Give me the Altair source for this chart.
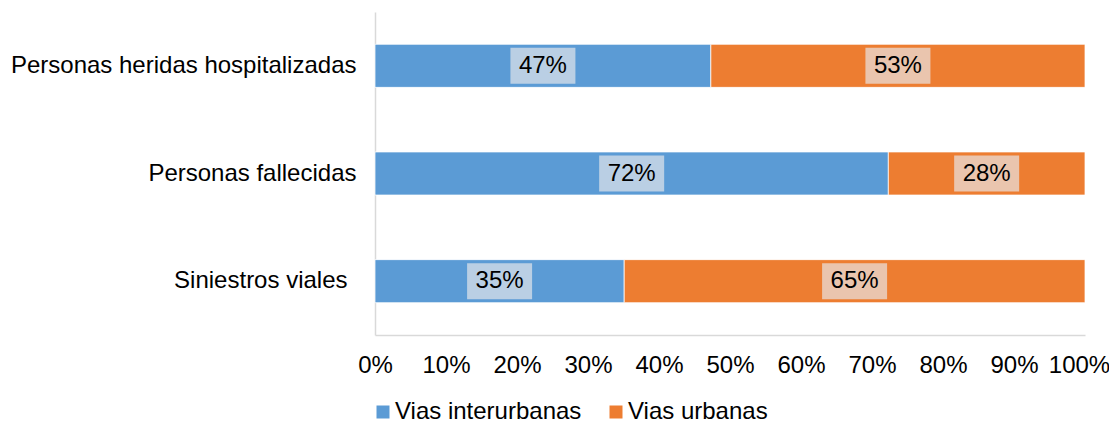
import altair as alt
import pandas as pd

categories = ["Personas heridas hospitalizadas", "Personas fallecidas", "Siniestros viales"]
series = ["Vias interurbanas", "Vias urbanas"]
interurbanas = [47.3, 72.3, 35.1]
urbanas = [52.7, 27.7, 64.9]
label_inter = ["47%", "72%", "35%"]
label_urb = ["53%", "28%", "65%"]
colors = ["#5B9BD5", "#ED7D31"]
x_ticks = [0, 0.1, 0.2, 0.3, 0.4, 0.5, 0.6, 0.7, 0.8, 0.9, 1.0]

rows = []
for i, c in enumerate(categories):
    rows.append({"cat": c, "serie": series[0], "v": interurbanas[i], "lab": label_inter[i], "ord": 0})
    rows.append({"cat": c, "serie": series[1], "v": urbanas[i], "lab": label_urb[i], "ord": 1})
df = pd.DataFrame(rows)

FONT = "Liberation Sans"
FS = 24

base = alt.Chart(df).transform_stack(
    stack="v", groupby=["cat"], as_=["x0", "x1"], offset="normalize",
    sort=[alt.SortField("ord", order="ascending")]
).transform_calculate(mid="(datum.x0 + datum.x1) / 2")

yenc = alt.Y("cat:N", sort=categories, title=None,
             scale=alt.Scale(paddingInner=0.6, paddingOuter=0.3),
             axis=alt.Axis(labelFontSize=FS, labelFont=FONT, labelColor="#000000",
                           ticks=False,
                           labelPadding=alt.ConditionalAxisNumber(
                               condition={"test": "datum.value == 'Siniestros viales'", "value": 28},
                               value=19),
                           domainColor="#D9D9D9", domainWidth=1.5, labelLimit=500))

bars = base.mark_bar(stroke="white", strokeWidth=0.75).encode(
    x=alt.X("x0:Q", title=None, scale=alt.Scale(domain=[0, 1], nice=False),
            axis=alt.Axis(values=x_ticks, format=".0%", labelFontSize=FS, labelFont=FONT,
                          labelColor="#000000", ticks=False, grid=False, labelPadding=18,
                          labelOffset=alt.ConditionalAxisNumber(
                              condition={"test": "datum.value == 1", "value": -6}, value=0),
                          domainColor="#D9D9D9", domainWidth=1.5, labelFlush=False)),
    x2="x1:Q",
    y=yenc,
    color=alt.Color("serie:N", scale=alt.Scale(domain=series, range=colors), title=None,
                    legend=alt.Legend(orient="none", legendX=-4, legendY=388, direction="horizontal",
                                      symbolType="square", symbolSize=169, symbolStrokeWidth=0,
                                      labelFontSize=FS, labelFont=FONT, labelColor="#000000",
                                      columnPadding=22, labelOffset=0, labelLimit=500)),
)

boxes = base.mark_point(
    filled=True, shape="M-1,-0.554H1V0.554H-1Z", size=4225,
    color="#E8E8EC", opacity=0.67, strokeWidth=0
).encode(x="mid:Q", y=alt.Y("cat:N", sort=categories))

texts = base.mark_text(fontSize=FS, font=FONT, color="#000000", baseline="middle").encode(
    x="mid:Q", y=alt.Y("cat:N", sort=categories), text="lab:N")

chart = alt.layer(bars, boxes, texts).properties(
    width=710, height=323,
    autosize="none",
    padding={"left": 367, "top": 4, "right": 24, "bottom": 90},
).configure_view(stroke=None)

chart.save("out.html", embed_options={"renderer": "svg", "actions": False})
